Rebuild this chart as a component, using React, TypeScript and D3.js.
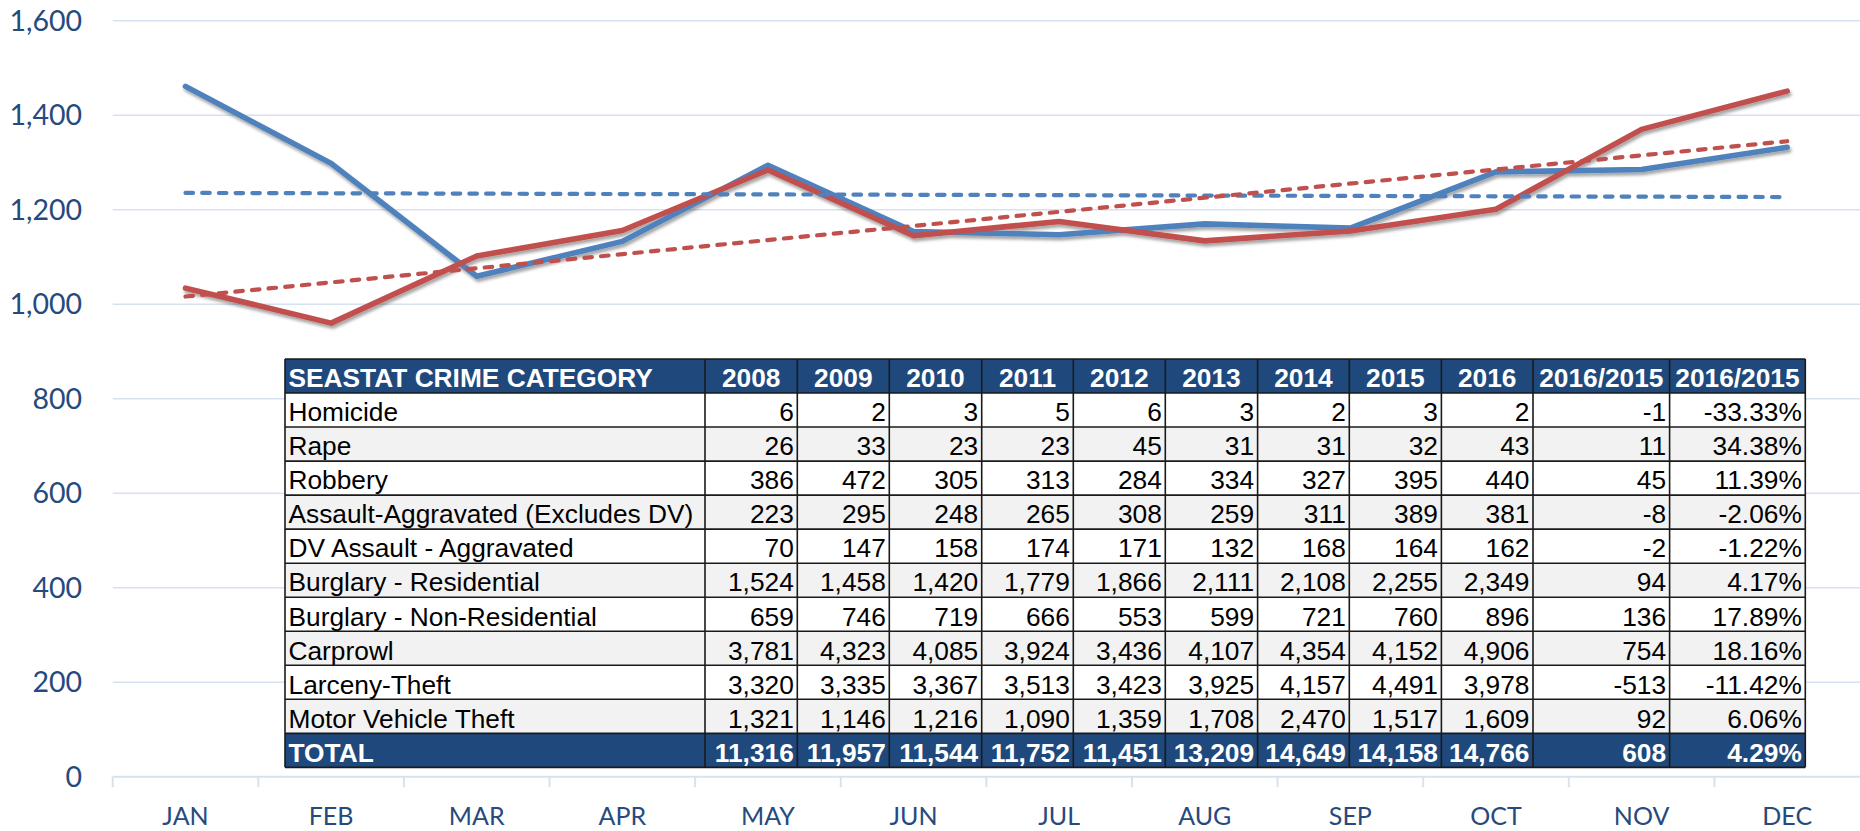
import React from "react";
import * as d3 from "d3";

const months = ["JAN", "FEB", "MAR", "APR", "MAY", "JUN", "JUL", "AUG", "SEP", "OCT", "NOV", "DEC"];
const blueSeries = [1461, 1298, 1059, 1133, 1294, 1154, 1147, 1170, 1161, 1280, 1285, 1332];
const redSeries = [1034, 960, 1102, 1156, 1284, 1145, 1175, 1134, 1155, 1201, 1370, 1451];
const yTicks = [0, 200, 400, 600, 800, 1000, 1200, 1400, 1600];

const tableTitle = "SEASTAT CRIME CATEGORY";
const years = ["2008", "2009", "2010", "2011", "2012", "2013", "2014", "2015", "2016"];
const changeHeaders = ["2016/2015", "2016/2015"];
const crimeCategories = [
  "Homicide",
  "Rape",
  "Robbery",
  "Assault-Aggravated (Excludes DV)",
  "DV Assault - Aggravated",
  "Burglary - Residential",
  "Burglary - Non-Residential",
  "Carprowl",
  "Larceny-Theft",
  "Motor Vehicle Theft",
];
const crimeCounts = [
  [6, 2, 3, 5, 6, 3, 2, 3, 2],
  [26, 33, 23, 23, 45, 31, 31, 32, 43],
  [386, 472, 305, 313, 284, 334, 327, 395, 440],
  [223, 295, 248, 265, 308, 259, 311, 389, 381],
  [70, 147, 158, 174, 171, 132, 168, 164, 162],
  [1524, 1458, 1420, 1779, 1866, 2111, 2108, 2255, 2349],
  [659, 746, 719, 666, 553, 599, 721, 760, 896],
  [3781, 4323, 4085, 3924, 3436, 4107, 4354, 4152, 4906],
  [3320, 3335, 3367, 3513, 3423, 3925, 4157, 4491, 3978],
  [1321, 1146, 1216, 1090, 1359, 1708, 2470, 1517, 1609],
];
const totalLabel = "TOTAL";
const yearTotals = [11316, 11957, 11544, 11752, 11451, 13209, 14649, 14158, 14766];

const W = 1860;
const H = 831;
const plotLeft = 112.7;
const plotRight = 1860;
const yBottom = 776.7;
const yTop = 20.7;

const AXIS_COLOR = "#264a7d";
const GRID_COLOR = "#d7e2f1";
const BLUE = "#4f81bd";
const RED = "#c0504d";
const HEADER_FILL = "#1f497d";

function regression(vals: number[]) {
  const n = vals.length;
  const mx = (n - 1) / 2;
  const my = d3.mean(vals) as number;
  let sxy = 0;
  let sxx = 0;
  vals.forEach((v, i) => {
    sxy += (i - mx) * (v - my);
    sxx += (i - mx) * (i - mx);
  });
  const slope = sxy / sxx;
  return vals.map((_, i) => my + slope * (i - mx));
}

const fmt = d3.format(",");

export default function App() {
  const x = d3.scaleBand<string>().domain(months).range([plotLeft, plotRight]).padding(0);
  const y = d3.scaleLinear().domain([0, 1600]).range([yBottom, yTop]);
  const cx = (m: string) => (x(m) as number) + x.bandwidth() / 2;

  const line = d3
    .line<number>()
    .x((_, i) => cx(months[i]))
    .y((v) => y(v));

  const blueTrend = regression(blueSeries);
  const redTrend = regression(redSeries);

  // table layout
  const colEdges = [285, 705, 797.3, 889.3, 981.7, 1073.3, 1165.3, 1257.6, 1349.3, 1441.4, 1533, 1669.6, 1805.3];
  const tableTop = 359;
  const rowH = 34.03;
  const nRows = crimeCategories.length + 2;
  const tableBottom = tableTop + rowH * nRows;
  const fs = 26.3;
  const baseOff = 28.3;

  const rowsData = crimeCategories.map((name, r) => {
    const vals = crimeCounts[r];
    const diff = vals[8] - vals[7];
    const pct = (diff / vals[7]) * 100;
    return [name, ...vals.map((v) => fmt(v)), String(diff), pct.toFixed(2) + "%"];
  });
  const totDiff = yearTotals[8] - yearTotals[7];
  const totalRow = [
    totalLabel,
    ...yearTotals.map((v) => fmt(v)),
    String(totDiff),
    ((totDiff / yearTotals[7]) * 100).toFixed(2) + "%",
  ];
  const headerRow = [tableTitle, ...years, ...changeHeaders];

  const cellText = (txt: string, c: number, rowTop: number, bold: boolean, fill: string, header: boolean) => {
    const x0 = colEdges[c];
    const x1 = colEdges[c + 1];
    let tx = x1 - 3.5;
    let anchor: "start" | "middle" | "end" = "end";
    if (c === 0) {
      tx = x0 + 3.5;
      anchor = "start";
    } else if (header) {
      tx = (x0 + x1) / 2;
      anchor = "middle";
    }
    return (
      <text
        key={`t${c}`}
        x={tx}
        y={rowTop + baseOff}
        textAnchor={anchor}
        fontFamily="'Liberation Sans', Arial, sans-serif"
        fontSize={fs}
        fontWeight={bold ? "bold" : "normal"}
        fill={fill}
      >
        {txt}
      </text>
    );
  };

  return (
    <div style={{ position: "absolute", left: 0, top: 0, width: W, height: H, background: "#fff" }}>
      <svg width={W} height={H} viewBox={`0 0 ${W} ${H}`} style={{ display: "block" }}>
        <defs>
          <filter id="shadow" x="-10%" y="-20%" width="120%" height="140%">
            <feDropShadow dx="1.5" dy="3" stdDeviation="1.8" floodColor="#000" floodOpacity="0.35" />
          </filter>
        </defs>
        <rect x={0} y={0} width={W} height={H} fill="#fff" />

        {/* gridlines */}
        {yTicks.map((t) => (
          <line
            key={`g${t}`}
            x1={plotLeft}
            x2={plotRight}
            y1={y(t)}
            y2={y(t)}
            stroke={GRID_COLOR}
            strokeWidth={t === 0 ? 2 : 1.6}
          />
        ))}
        {/* x ticks */}
        {months.map((m) => (
          <line
            key={`tk${m}`}
            x1={x(m) as number}
            x2={x(m) as number}
            y1={yBottom}
            y2={yBottom + 10.5}
            stroke={GRID_COLOR}
            strokeWidth={2}
          />
        ))}
        {/* y labels */}
        {yTicks.map((t) => (
          <text
            key={`yl${t}`}
            x={82}
            y={y(t)}
            dy="0.36em"
            textAnchor="end"
            fontFamily="Lato, 'Open Sans', sans-serif"
            fontSize={28.5}
            fill={AXIS_COLOR}
          >
            {fmt(t)}
          </text>
        ))}
        {/* x labels */}
        {months.map((m) => (
          <text
            key={`xl${m}`}
            x={cx(m)}
            y={824.5}
            textAnchor="middle"
            fontFamily="Lato, 'Open Sans', sans-serif"
            fontSize={25}
            fill={AXIS_COLOR}
          >
            {m}
          </text>
        ))}

        {/* lines */}
        <g filter="url(#shadow)">
          <path d={line(blueSeries) as string} fill="none" stroke={BLUE} strokeWidth={5.6} strokeLinecap="round" strokeLinejoin="round" />
          <path d={line(redSeries) as string} fill="none" stroke={RED} strokeWidth={5.6} strokeLinecap="round" strokeLinejoin="round" />
        </g>
        <path
          d={`M${cx(months[0])},${y(blueTrend[0])}L${cx(months[11])},${y(blueTrend[11])}`}
          fill="none"
          stroke={BLUE}
          strokeWidth={4.2}
          strokeDasharray="7.5 9.2"
          strokeLinecap="round"
        />
        <path
          d={`M${cx(months[0])},${y(redTrend[0])}L${cx(months[11])},${y(redTrend[11])}`}
          fill="none"
          stroke={RED}
          strokeWidth={4.2}
          strokeDasharray="7.5 9.2"
          strokeLinecap="round"
        />

        {/* table */}
        <g>
          <rect x={colEdges[0]} y={tableTop} width={colEdges[12] - colEdges[0]} height={rowH} fill={HEADER_FILL} />
          {headerRow.map((h, c) => cellText(h, c, tableTop, true, "#fff", true))}
          {rowsData.map((row, r) => {
            const top = tableTop + rowH * (r + 1);
            return (
              <g key={`r${r}`}>
                <rect
                  x={colEdges[0]}
                  y={top}
                  width={colEdges[12] - colEdges[0]}
                  height={rowH}
                  fill={r % 2 === 0 ? "#ffffff" : "#f2f2f2"}
                />
                {row.map((v, c) => cellText(v, c, top, false, "#000", false))}
              </g>
            );
          })}
          {(() => {
            const top = tableTop + rowH * (nRows - 1);
            return (
              <g>
                <rect x={colEdges[0]} y={top} width={colEdges[12] - colEdges[0]} height={rowH} fill={HEADER_FILL} />
                {totalRow.map((v, c) => cellText(v, c, top, true, "#fff", false))}
              </g>
            );
          })()}
          {d3.range(nRows + 1).map((i) => (
            <line
              key={`hb${i}`}
              x1={colEdges[0]}
              x2={colEdges[12]}
              y1={tableTop + rowH * i}
              y2={tableTop + rowH * i}
              stroke="#1a1a1a"
              strokeWidth={1.6}
            />
          ))}
          {colEdges.map((cxe, i) => (
            <line
              key={`vb${i}`}
              x1={cxe}
              x2={cxe}
              y1={tableTop}
              y2={tableBottom}
              stroke="#1a1a1a"
              strokeWidth={1.6}
            />
          ))}
        </g>
      </svg>
    </div>
  );
}
